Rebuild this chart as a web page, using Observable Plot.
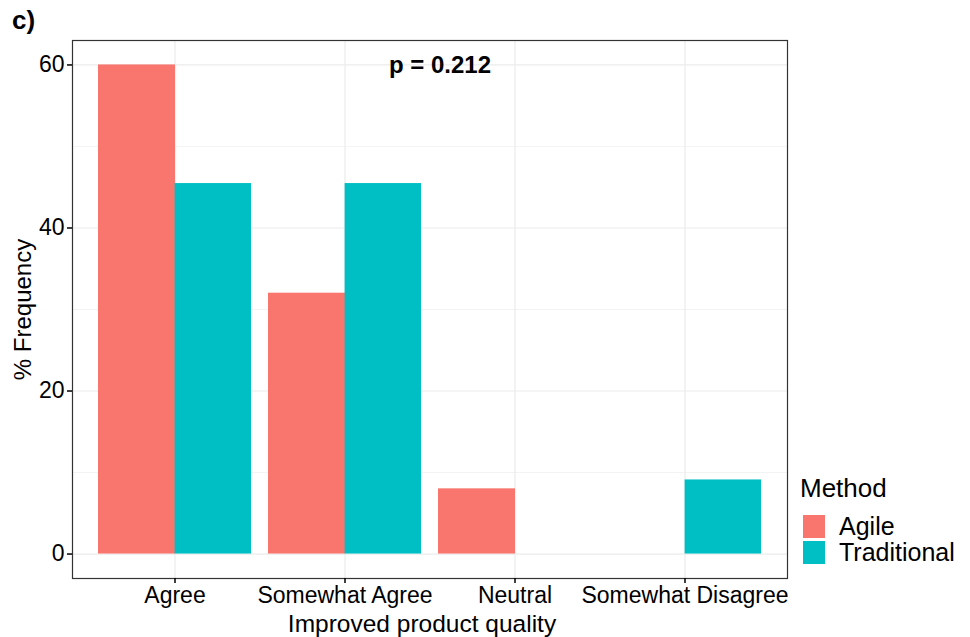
<!DOCTYPE html>
<html>
<head>
<meta charset="utf-8">
<script src="https://cdn.jsdelivr.net/npm/d3@7"></script>
<script src="https://cdn.jsdelivr.net/npm/@observablehq/plot@0.6"></script>
<style>
  body { margin: 0; background: #fff; }
  #fig { position: relative; width: 970px; height: 637px; font-family: "Liberation Sans", Arial, sans-serif; color: #000; }
  #tag { position: absolute; left: 12px; top: 5px; font-weight: bold; font-size: 26px; line-height: 30px; }
  #legend { position: absolute; left: 800px; top: 472px; }
  #legend .title { font-size: 26px; line-height: 32px; margin-bottom: 9px; }
  #legend .item { display: flex; align-items: center; height: 26px; }
  #legend .key { width: 22px; height: 23px; margin-left: 3px; }
  #legend .lab { font-size: 25px; margin-left: 14px; line-height: 26px; }
</style>
</head>
<body>
<div id="fig"><div id="tag">c)</div></div>
<script>
// Response categories and percentage of respondents per method
const categories = ["Agree", "Somewhat Agree", "Neutral", "Somewhat Disagree"];
const methods = ["Agile", "Traditional"];
const agile = [60, 32, 8, 0];
const traditional = [45.45, 45.45, 0, 9.09];
const colors = ["#F8766D", "#00BFC4"];
const yTicks = [0, 20, 40, 60];
const yMinor = [10, 30, 50];
const pText = "p = 0.212";
const xTitle = "Improved product quality";
const yTitle = "% Frequency";
const legendTitle = "Method";

const rows = categories.flatMap((c, i) => [
  {category: c, method: methods[0], value: agile[i]},
  {category: c, method: methods[1], value: traditional[i]}
]).filter(d => d.value > 0);

// Layout
const W = 970, H = 637, ml = 72, mr = 183, mt = 40, mb = 59;
const padIn = 0.1, padOut = 0.15;
const step = (W - ml - mr) / (categories.length - padIn + 2 * padOut);
const half = step * (1 - padIn) / 2;

const chart = Plot.plot({
  width: W, height: H,
  marginLeft: ml, marginRight: mr, marginTop: mt, marginBottom: mb,
  style: {fontFamily: "Liberation Sans, Arial, sans-serif", color: "#000", background: "transparent"},
  x: {domain: categories, paddingInner: padIn, paddingOuter: padOut, axis: null},
  y: {domain: [-3, 63], axis: null},
  color: {domain: methods, range: colors},
  marks: [
    Plot.ruleY(yMinor, {stroke: "#ebebeb", strokeWidth: 0.6}),
    Plot.ruleY(yTicks, {stroke: "#ebebeb", strokeWidth: 1.2}),
    Plot.ruleX(categories, {x: d => d, stroke: "#ebebeb", strokeWidth: 1.2}),
    // dodged bars: Agile fills the left half of each band, Traditional the right half
    Plot.barY(rows.filter(d => d.method === methods[0]), {x: "category", y: "value", fill: "method", insetRight: half - 0.6}),
    Plot.barY(rows.filter(d => d.method === methods[1]), {x: "category", y: "value", fill: "method", insetLeft: half}),
    Plot.frame({stroke: "#333", strokeWidth: 1.2}),
    Plot.axisY(yTicks, {tickSize: 5, tickPadding: 3, fontSize: 23, strokeWidth: 1.5, label: null}),
    Plot.axisX({tickSize: 5, tickPadding: 3, fontSize: 23, strokeWidth: 1.5, label: null}),
    Plot.text([pText], {frameAnchor: "top", dx: 10, dy: 15, fontWeight: "bold", fontSize: 24}),
    Plot.text([xTitle], {frameAnchor: "bottom", dx: -8, dy: 36, lineAnchor: "top", fontSize: 24.5}),
    Plot.text([yTitle], {frameAnchor: "left", textAnchor: "middle", dx: -49, rotate: -90, fontSize: 24})
  ]
});

const fig = document.getElementById("fig");
fig.appendChild(chart);

// Legend built from the chart's color scale
const color = chart.scale("color");
const legend = document.createElement("div");
legend.id = "legend";
legend.innerHTML = `<div class="title">${legendTitle}</div>` +
  methods.map(m => `<div class="item"><div class="key" style="background:${color.apply(m)}"></div><div class="lab">${m}</div></div>`).join("");
fig.appendChild(legend);
</script>
</body>
</html>
